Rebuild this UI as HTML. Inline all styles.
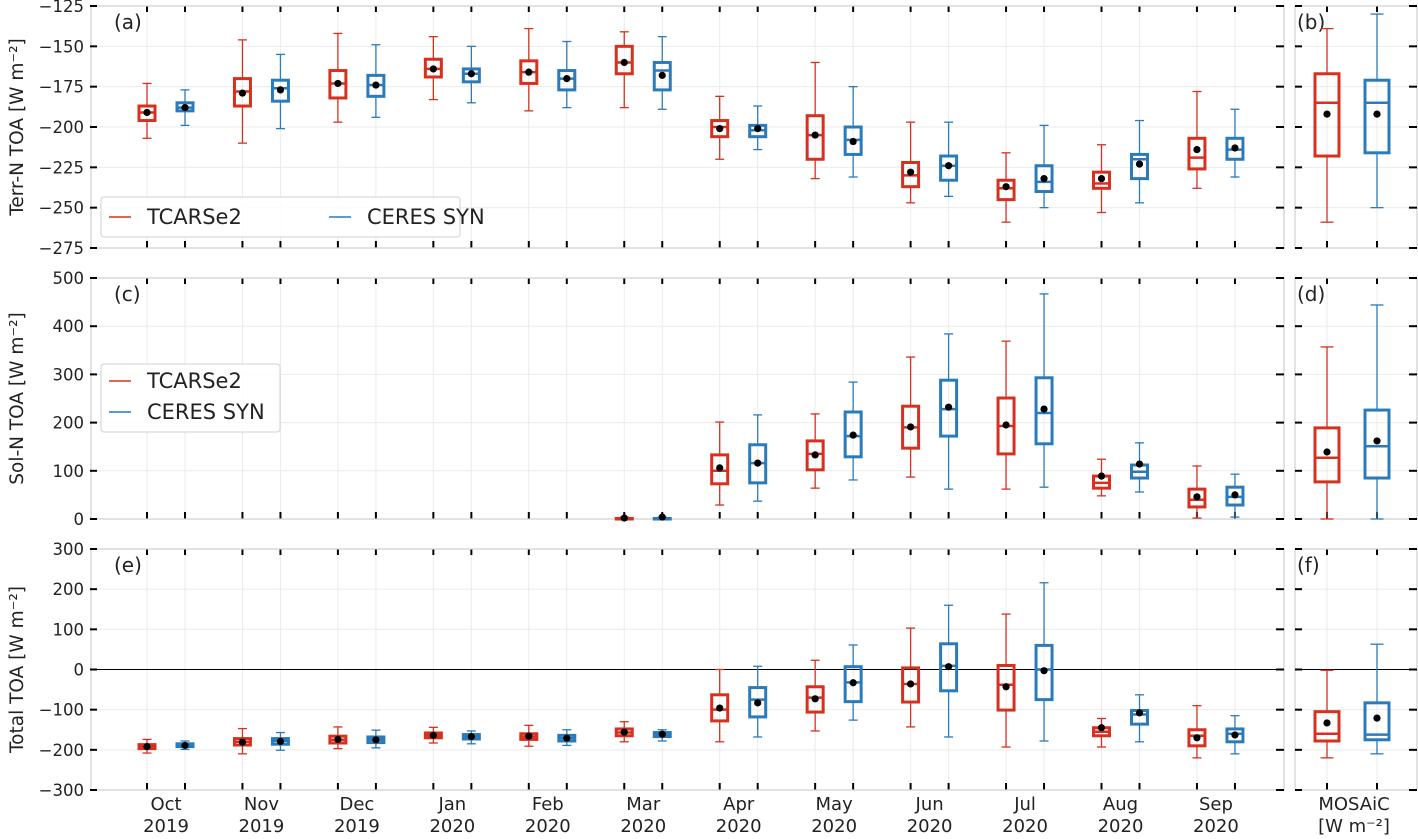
<!DOCTYPE html>
<html><head><meta charset="utf-8">
<style>
html,body{margin:0;padding:0;background:#fff;}
svg{display:block;font-family:"DejaVu Sans","Liberation Sans",sans-serif;}
</style></head>
<body>
<svg id="chart" width="1418" height="839" viewBox="0 0 1418 839"></svg>
<script>
const months = ["Oct","Nov","Dec","Jan","Feb","Mar","Apr","May","Jun","Jul","Aug","Sep"];
const years = ["2019","2019","2019","2020","2020","2020","2020","2020","2020","2020","2020","2020"];
// each stat: [lo, q1, med, q3, hi, mean]
const terrRed = [[-207,-196,-191,-187,-173,-191],[-210,-187,-178,-170,-146,-179],[-197,-182,-173,-165,-142,-173],[-183,-169,-164,-158,-144,-164],[-190,-173,-166,-159,-139,-166],[-188,-167,-160,-150,-141,-160],[-220,-206,-200,-196,-181,-201],[-232,-220,-205,-193,-160,-205],[-247,-237,-230,-222,-197,-228],[-259,-245,-238,-233,-216,-237],[-253,-238,-235,-228,-211,-232],[-238,-226,-219,-207,-178,-214]];
const terrBlue = [[-199,-190,-188,-185,-177,-188],[-201,-184,-176,-171,-155,-177],[-194,-181,-174,-168,-149,-174],[-185,-172,-167,-164,-150,-167],[-188,-177,-170,-165,-147,-170],[-189,-177,-165,-160,-144,-168],[-214,-206,-202,-199,-187,-201],[-231,-217,-208,-200,-175,-209],[-243,-233,-224,-218,-197,-224],[-250,-240,-234,-224,-199,-232],[-247,-232,-220,-217,-196,-223],[-231,-220,-214,-207,-189,-213]];
const terrMosaic = [[-259,-218,-185,-167,-139,-192],[-250,-216,-185,-171,-130,-192]];
const solRed = [null,null,null,null,null,[0,0,0,1,4,2],[29,73,100,133,201,106],[64,102,135,162,218,133],[87,147,190,234,336,191],[62,135,193,251,369,195],[48,64,75,89,124,89],[2,25,40,62,110,46]];
const solBlue = [null,null,null,null,null,[0,0,0,1,4,4],[37,75,116,154,216,116],[81,129,172,222,284,174],[62,172,228,288,384,232],[66,156,220,293,467,228],[56,85,98,112,158,114],[4,29,46,66,93,50]];
const solMosaic = [[0,77,127,189,357,139],[0,85,151,226,444,162]];
const totRed = [[-208,-197,-192,-187,-174,-192],[-210,-188,-180,-172,-147,-181],[-197,-183,-175,-166,-143,-174],[-183,-170,-164,-158,-144,-164],[-191,-174,-167,-160,-139,-166],[-180,-165,-157,-148,-130,-156],[-180,-128,-100,-63,0,-96],[-153,-106,-70,-43,23,-73],[-143,-81,-36,4,103,-36],[-193,-101,-38,10,138,-43],[-193,-165,-155,-145,-122,-145],[-220,-190,-165,-150,-90,-170]];
const totBlue = [[-199,-192,-189,-185,-178,-189],[-201,-186,-178,-172,-157,-179],[-195,-182,-175,-168,-151,-175],[-185,-173,-167,-162,-153,-167],[-189,-178,-171,-164,-150,-171],[-178,-167,-162,-157,-150,-161],[-168,-118,-75,-45,8,-83],[-126,-80,-32,7,61,-33],[-168,-53,9,64,160,7],[-178,-75,0,60,216,-3],[-180,-136,-112,-102,-63,-108],[-210,-180,-160,-148,-115,-163]];
const totMosaic = [[-220,-178,-160,-105,-2,-133],[-210,-175,-162,-83,63,-121]];
const terrTicks = [-125,-150,-175,-200,-225,-250,-275];
const solTicks = [500,400,300,200,100,0];
const totTicks = [300,200,100,0,-100,-200,-300];

const RED="#d7301f", BLUE="#2b7bba";
const svg=document.getElementById('chart');
const NS="http://www.w3.org/2000/svg";
function mk(tag,attrs,parent){const e=document.createElementNS(NS,tag);for(const k in attrs)e.setAttribute(k,attrs[k]);(parent||svg).appendChild(e);return e;}
const MX0=91, MX1=1284, SX0=1295, SX1=1417;
function monthX(i){return 166+i*95.45;}
const panels=[
 {top:6,bot:248,min:-275,max:-125,ticks:terrTicks,red:terrRed,blue:terrBlue,mos:terrMosaic,lab:"(a)",slab:"(b)",title:"Terr-N TOA [W m\u207B\u00B2]",name:"terr-n"},
 {top:278,bot:519,min:0,max:500,ticks:solTicks,red:solRed,blue:solBlue,mos:solMosaic,lab:"(c)",slab:"(d)",title:"Sol-N TOA [W m\u207B\u00B2]",name:"sol-n"},
 {top:549,bot:790,min:-300,max:300,ticks:totTicks,red:totRed,blue:totBlue,mos:totMosaic,lab:"(e)",slab:"(f)",title:"Total TOA [W m\u207B\u00B2]",name:"total"}
];
function fmt(v){return v<0?"\u2212"+(-v):""+v;}
function drawBox(g,x,s,yf,col,w,cap,name){
  if(!s)return;
  const [lo,q1,med,q3,hi,mean]=s;
  const grp=mk('g',{},g);
  
  
  mk('line',{x1:x,x2:x,y1:yf(hi),y2:yf(q3),stroke:col,'stroke-width':1.3},grp);
  mk('line',{x1:x,x2:x,y1:yf(q1),y2:yf(lo),stroke:col,'stroke-width':1.3},grp);
  mk('line',{x1:x-cap/2,x2:x+cap/2,y1:yf(hi),y2:yf(hi),stroke:col,'stroke-width':1.3},grp);
  mk('line',{x1:x-cap/2,x2:x+cap/2,y1:yf(lo),y2:yf(lo),stroke:col,'stroke-width':1.3},grp);
  const yt=yf(q3), yb=yf(q1);
  mk('rect',{x:x-w/2,y:yt,width:w,height:Math.max(yb-yt,0.5),fill:'none',stroke:col,'stroke-width':3},grp);
  mk('line',{x1:x-w/2,x2:x+w/2,y1:yf(med),y2:yf(med),stroke:col,'stroke-width':2.5},grp);
  mk('circle',{cx:x,cy:yf(mean),r:3.6,fill:'#000'},grp);
}
panels.forEach((p,pi)=>{
  const yf=v=>p.bot-(v-p.min)/(p.max-p.min)*(p.bot-p.top);
  const g=mk('g',{});
  
  
  p.ticks.forEach(t=>{
    const y=yf(t);
    mk('line',{x1:MX0,x2:MX1,y1:y,y2:y,stroke:'#ebebeb','stroke-width':1},g);
    mk('line',{x1:SX0,x2:SX1,y1:y,y2:y,stroke:'#ebebeb','stroke-width':1},g);
  });
  months.forEach((m,i)=>{
    [monthX(i)-19,monthX(i)+19].forEach(x=>{
      mk('line',{x1:x,x2:x,y1:p.top,y2:p.bot,stroke:'#ebebeb','stroke-width':1},g);
      mk('line',{x1:x,x2:x,y1:p.bot-7,y2:p.bot,stroke:'#000','stroke-width':2},g);
      mk('line',{x1:x,x2:x,y1:p.top,y2:p.top+6,stroke:'#000','stroke-width':2},g);
    });
  });
  [1327,1377].forEach(x=>{
    mk('line',{x1:x,x2:x,y1:p.top,y2:p.bot,stroke:'#ebebeb','stroke-width':1},g);
    mk('line',{x1:x,x2:x,y1:p.bot-7,y2:p.bot,stroke:'#000','stroke-width':2},g);
    mk('line',{x1:x,x2:x,y1:p.top,y2:p.top+6,stroke:'#000','stroke-width':2},g);
  });
  if(pi===2){
    const zl=mk('line',{x1:MX0,x2:MX1,y1:yf(0),y2:yf(0),stroke:'#000','stroke-width':1},g);
    
    mk('line',{x1:SX0,x2:SX1,y1:yf(0),y2:yf(0),stroke:'#000','stroke-width':1},g);
  }
  mk('rect',{x:MX0,y:p.top,width:MX1-MX0,height:p.bot-p.top,fill:'none',stroke:'#cfcfcf','stroke-width':1.2},g);
  mk('rect',{x:SX0,y:p.top,width:SX1-SX0,height:p.bot-p.top,fill:'none',stroke:'#cfcfcf','stroke-width':1.2},g);
  p.ticks.forEach(t=>{
    const y=yf(t);
    mk('line',{x1:MX0-1,x2:MX0+6,y1:y,y2:y,stroke:'#000','stroke-width':2},g);
    mk('line',{x1:MX1-8,x2:MX1,y1:y,y2:y,stroke:'#000','stroke-width':2},g);
    mk('line',{x1:SX0,x2:SX0+7,y1:y,y2:y,stroke:'#000','stroke-width':2},g);
    mk('line',{x1:SX1-8,x2:SX1,y1:y,y2:y,stroke:'#000','stroke-width':2},g);
    const tx=mk('text',{x:84,y:y+6,'text-anchor':'end','font-size':16.5,fill:'#222'},g);
    tx.textContent=fmt(t);
    
  });
  const tt=mk('text',{x:0,y:0,'text-anchor':'middle','font-size':18.5,fill:'#222',transform:`translate(23,${(p.top+p.bot)/2}) rotate(-90)`},g);
  tt.textContent=p.title;
  
  const l1=mk('text',{x:114,y:p.top+23,'font-size':20,fill:'#222'},g);l1.textContent=p.lab;
  
  const l2=mk('text',{x:1297,y:p.top+23,'font-size':20,fill:'#222'},g);l2.textContent=p.slab;
  
  months.forEach((m,i)=>{
    drawBox(g,monthX(i)-19,p.red[i],yf,RED,16,9,'box-tcarse2-'+m.toLowerCase());
    drawBox(g,monthX(i)+19,p.blue[i],yf,BLUE,16,9,'box-ceres-'+m.toLowerCase());
  });
  drawBox(g,1327,p.mos[0],yf,RED,24,13,'box-tcarse2-mosaic');
  drawBox(g,1377,p.mos[1],yf,BLUE,24,13,'box-ceres-mosaic');
});
function legend(x,y,w,h,horizontal){
  const g=mk('g',{});
  
  
  mk('rect',{x:x,y:y,width:w,height:h,rx:3,fill:'rgba(255,255,255,0.85)',stroke:'#d0d0d0','stroke-width':1},g);
  const items=[["TCARSe2",RED],["CERES SYN",BLUE]];
  items.forEach((it,i)=>{
    const ix=horizontal? x+8+i*220 : x+8;
    const iy=horizontal? y+h/2 : y+17+i*31;
    const e=mk('g',{},g);
    
    
    mk('line',{x1:ix,x2:ix+22,y1:iy,y2:iy,stroke:it[1],'stroke-width':1.5},e);
    const t=mk('text',{x:ix+38,y:iy+7,'font-size':21,fill:'#222'},e);t.textContent=it[0];
  });
}
legend(101,197,359,40,true);
legend(101,364,179,68,false);
months.forEach((m,i)=>{
  const t=mk('text',{x:monthX(i),y:810,'text-anchor':'middle','font-size':18,fill:'#222'});
  t.textContent=m;
  
  const t2=mk('text',{x:monthX(i),y:832,'text-anchor':'middle','font-size':18,fill:'#222'});
  t2.textContent=years[i];
  
});
const m1=mk('text',{x:1354,y:810,'text-anchor':'middle','font-size':18,fill:'#222'});m1.textContent="MOSAiC";

const m2=mk('text',{x:1354,y:832,'text-anchor':'middle','font-size':18,fill:'#222'});m2.textContent="[W m\u207B\u00B2]";

</script>
</body></html>
